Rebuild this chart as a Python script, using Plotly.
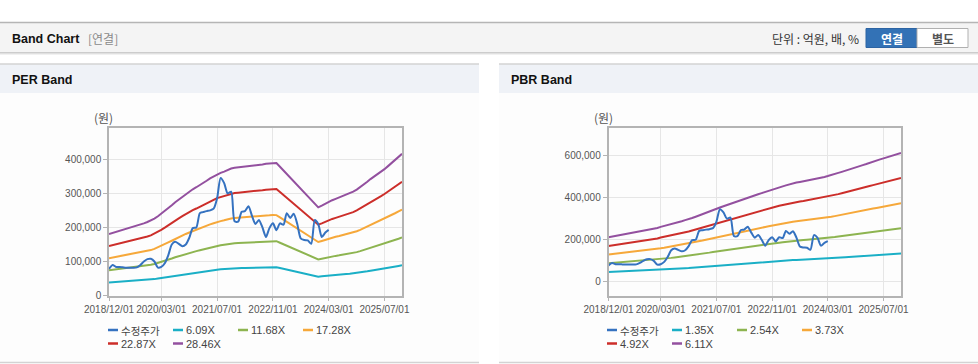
import plotly.graph_objects as go
import pandas as pd

# ---------------- data ----------------
months = pd.date_range("2018-12-01", periods=85, freq="MS")
tick_dates = ["2018-12-01", "2020-03-01", "2021-07-01", "2022-11-01", "2024-03-01", "2025-07-01"]
tick_labels = ["2018/12/01", "2020/03/01", "2021/07/01", "2022/11/01", "2024/03/01", "2025/07/01"]

# adjusted close price (수정주가), monthly, 2018/12 .. 2024/03
price = [78000, 90000, 84000, 84000, 83000, 82000, 82000, 82000, 83000, 90000,
         100000, 107000, 108000, 100000, 82000, 84000, 95000, 118000, 150000, 158000,
         152000, 145000, 150000, 170000, 198000, 200000, 242000, 245000, 248000, 250000,
         255000, 285000, 345000, 330000, 300000, 305000, 218000, 217000, 246000, 248000,
         262000, 235000, 210000, 222000, 200000, 172000, 198000, 212000, 192000, 212000,
         208000, 242000, 228000, 240000, 210000, 168000, 163000, 162000, 152000, 222000,
         210000, 172000, 185000, 193000]

# forward EPS (원), monthly 2018/12 .. 2025/12
eps = [6360, 6465, 6571, 6676, 6781, 6922, 7027, 7133, 7238, 7344,
       7449, 7590, 7730, 7941, 8187, 8433, 8714, 9030, 9311, 9627,
       9909, 10190, 10471, 10717, 10963, 11174, 11384, 11595, 11841, 12087,
       12298, 12509, 12649, 12790, 12966, 13106, 13176, 13212, 13247, 13282,
       13317, 13387, 13422, 13493, 13528, 13598, 13633, 13703, 13668, 13282,
       12895, 12509, 12122, 11736, 11349, 10963, 10576, 10190, 9803, 9417,
       9101, 9276, 9487, 9698, 9838, 9979, 10119, 10260, 10401, 10541,
       10717, 10928, 11174, 11455, 11736, 12017, 12263, 12509, 12755, 13036,
       13352, 13668, 13985, 14301, 14617]

# forward BPS (원), monthly 2018/12 .. 2025/12
bps = [34698, 35189, 35680, 36171, 36662, 37153, 37644, 38135, 38626, 39117,
       39608, 40262, 40753, 41244, 41899, 42717, 43373, 44191, 44845, 45664,
       46482, 47137, 47955, 48610, 49592, 50574, 51720, 52702, 53684, 54666,
       55811, 56793, 57775, 58757, 59740, 60558, 61540, 62522, 63504, 64486,
       65304, 66286, 67104, 68087, 68905, 69887, 70705, 71687, 72506, 73324,
       74143, 74961, 75779, 76598, 77089, 77580, 78071, 78725, 79216, 79707,
       80198, 80853, 81508, 82162, 82817, 83635, 84617, 85436, 86418, 87236,
       88054, 89036, 89855, 90673, 91492, 92474, 93292, 94110, 95092, 95911,
       96729, 97547, 98529, 99348, 100166]

per_multiples = [6.09, 11.68, 17.28, 22.87, 28.46]
pbr_multiples = [1.35, 2.54, 3.73, 4.92, 6.11]
price_name = "수정주가"
per_names = ["6.09X", "11.68X", "17.28X", "22.87X", "28.46X"]
pbr_names = ["1.35X", "2.54X", "3.73X", "4.92X", "6.11X"]

# ---------------- styles ----------------
W, H = 978, 364
price_color = "#3572c0"
band_colors = ["#1aafc6", "#8db450", "#f6a83a", "#cc2e2a", "#93509f"]
FONT = "Liberation Sans, Arial, Noto Sans CJK KR, sans-serif"
KFONT = "Noto Sans CJK KR, Liberation Sans, sans-serif"


def px(x):
    return x / W


def py(y):
    return 1 - y / H


fig = go.Figure()

panels = [
    dict(xa="x", ya="y", base=eps, mults=per_multiples, names=per_names),
    dict(xa="x2", ya="y2", base=bps, mults=pbr_multiples, names=pbr_names),
]
for p in panels:
    for m, nm, col in zip(p["mults"], p["names"], band_colors):
        fig.add_trace(go.Scatter(
            x=months, y=[b * m for b in p["base"]], name=nm, mode="lines",
            line=dict(color=col, width=2), xaxis=p["xa"], yaxis=p["ya"],
            showlegend=False, hoverinfo="skip"))
    fig.add_trace(go.Scatter(
        x=months[:len(price)], y=price, name=price_name, mode="lines",
        line=dict(color=price_color, width=2, shape="spline", smoothing=0.7),
        xaxis=p["xa"], yaxis=p["ya"], showlegend=False, hoverinfo="skip"))

ydom = [py(295.6), py(128.3)]
common_x = dict(
    type="date", range=["2018-12-01", "2025-12-01"], tickvals=tick_dates, ticktext=tick_labels,
    tickangle=0, automargin=False, showgrid=True, gridcolor="#e6e6e6", gridwidth=1,
    showline=True, linecolor="#b4b4b4", linewidth=1.5, mirror=True, ticks="outside",
    ticklen=4, tickcolor="#b4b4b4", tickfont=dict(family=FONT, size=10, color="#555555"),
    fixedrange=True)
common_y = dict(
    automargin=False, showgrid=True, gridcolor="#e6e6e6", gridwidth=1, showline=True,
    linecolor="#b4b4b4", linewidth=1.5, mirror=True, ticks="outside", ticklen=4,
    tickcolor="#b4b4b4", tickformat=",d", zeroline=False,
    tickfont=dict(family=FONT, size=10, color="#555555"), fixedrange=True)

fig.update_layout(
    width=W, height=H, margin=dict(l=0, r=0, t=0, b=0, pad=0), autosize=False,
    paper_bgcolor="white", plot_bgcolor="white", showlegend=False,
    xaxis=dict(domain=[px(109), px(402)], anchor="y", **common_x),
    yaxis=dict(domain=ydom, anchor="x", range=[0, 491000], tickvals=[0, 100000, 200000, 300000, 400000], **common_y),
    xaxis2=dict(domain=[px(608.5), px(901)], anchor="y2", **common_x),
    yaxis2=dict(domain=ydom, anchor="x2", range=[-65000, 728600], tickvals=[0, 200000, 400000, 600000], **common_y),
)

shapes = []
annotations = []


def rect(x0, y0, x1, y1, fill, line=None, lw=0):
    shapes.append(dict(type="rect", xref="paper", yref="paper", x0=px(x0), x1=px(x1),
                       y0=py(y1), y1=py(y0), fillcolor=fill, layer="below",
                       line=dict(color=line or fill, width=lw)))


def hline(x0, x1, y, color, w=1):
    shapes.append(dict(type="line", xref="paper", yref="paper", x0=px(x0), x1=px(x1),
                       y0=py(y), y1=py(y), line=dict(color=color, width=w), layer="below"))


def text(x, y, s, size=12, color="#333333", anchor="left", family=FONT):
    annotations.append(dict(xref="paper", yref="paper", x=px(x), y=py(y), text=s,
                            showarrow=False, xanchor=anchor, yanchor="middle",
                            borderpad=0, font=dict(family=family, size=size, color=color)))


# top header bar
rect(0, 22.5, 978, 52.5, "#f4f4f4")
hline(0, 978, 22.5, "#b5b5b5", 1.5)
hline(0, 978, 52.8, "#bcbcbc", 1.2)
hline(0, 978, 54.0, "#e4e4e4", 1.2)
text(11, 39, "<b>Band Chart</b>", size=12.5, color="#111111")
text(87, 39, "[연결]", size=12, color="#8a8a8a", family=KFONT)
text(860, 39, "단위 : 억원, 배, %", size=12, color="#333333", anchor="right", family=KFONT)
rect(866, 28.5, 917, 47.5, "#3372b6", "#2d64a3", 1)
rect(917, 28.5, 968, 47.5, "#ffffff", "#b0b0b0", 1)
text(891.5, 38.5, "<b>연결</b>", size=12, color="#ffffff", anchor="center", family=KFONT)
text(942.5, 38.5, "<b>별도</b>", size=12, color="#555555", anchor="center", family=KFONT)

# panel headers and bodies
for x0, x1, title in [(0, 479, "PER Band"), (499, 978, "PBR Band")]:
    rect(x0, 93, x1, 362, "#fdfdfd")
    rect(x0, 64, x1, 93, "#eff2f7")
    hline(x0, x1, 64, "#d3d3d3", 1.5)
    hline(x0, x1, 362.5, "#d3d3d3", 1.5)
    text(x0 + 11, 80, "<b>" + title + "</b>", size=12.5, color="#111111")

# unit labels
text(103, 118, "(원)", size=12, color="#555555", anchor="center", family=KFONT)
text(603, 118, "(원)", size=12, color="#555555", anchor="center", family=KFONT)

# legends
for lx, names in [(108, per_names), (607, pbr_names)]:
    items = [(price_name, price_color)] + list(zip(names, band_colors))
    for i, (nm, col) in enumerate(items):
        row, colidx = divmod(i, 4)
        sx = lx + 65 * colidx
        sy = 330 + 13.5 * row
        hline(sx, sx + 10, sy, col, 2.5)
        text(sx + 12, sy, nm, size=10.5 if nm == price_name else 11, color="#444444",
             family=KFONT if nm == price_name else FONT)

fig.update_layout(shapes=shapes, annotations=annotations)
fig.write_html(
    "out.html",
    config={"displayModeBar": False},
    post_script="document.body.style.margin='0';document.body.style.overflow='hidden';",
)
